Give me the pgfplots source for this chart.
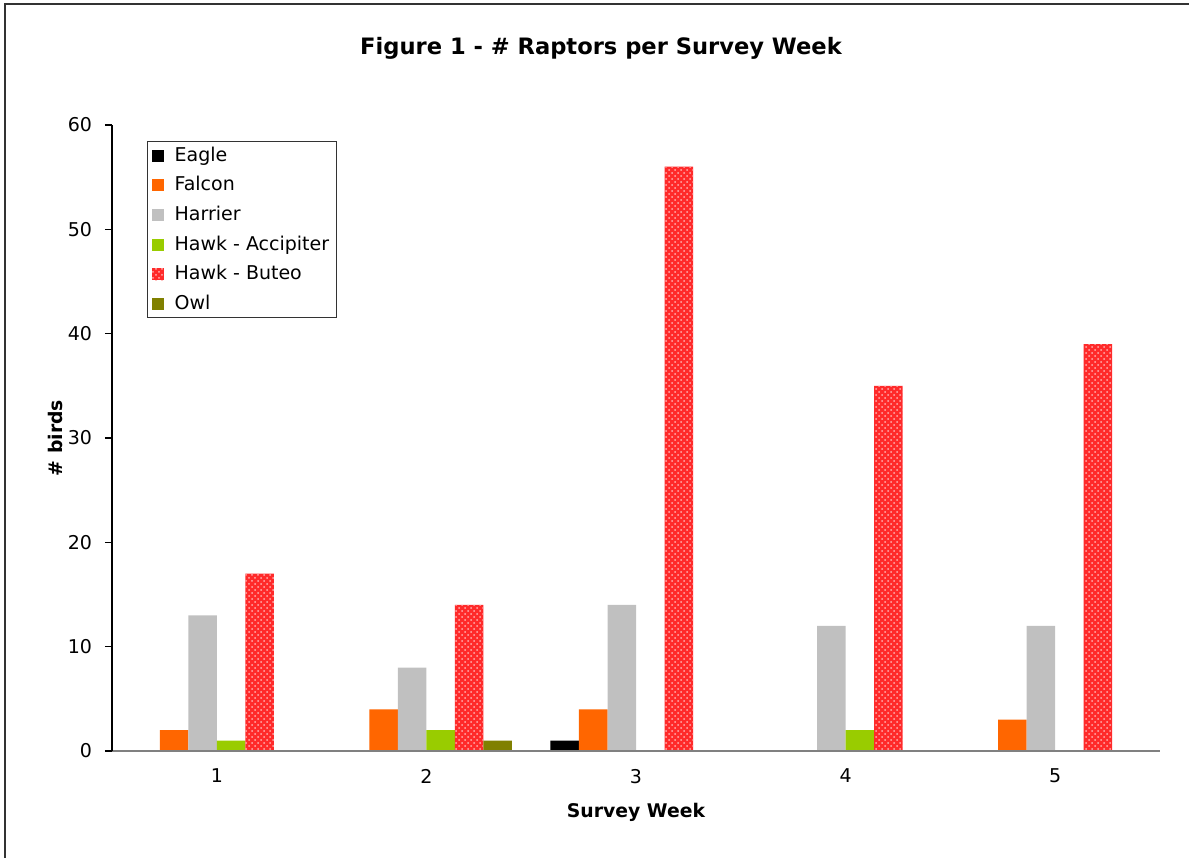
\documentclass[border=0pt]{standalone}
\usepackage{fontspec}
\setmainfont{DejaVu Sans}
\usepackage{pgfplots}
\pgfplotsset{compat=1.18}
\usetikzlibrary{patterns}

\definecolor{falcon}{HTML}{FF6600}
\definecolor{harrier}{HTML}{C0C0C0}
\definecolor{accip}{HTML}{99CC00}
\definecolor{owl}{HTML}{808000}
\definecolor{buteo}{HTML}{FF2A2A}
\definecolor{buteolt}{HTML}{FFB0B0}
\definecolor{axgray}{HTML}{808080}

\begin{document}
\begin{tikzpicture}
% page = 1189 x 857 px, 1 px = 0.5 pt
\useasboundingbox (0,0) rectangle (594.5pt,428.5pt);
\draw[line width=1pt, black!80] (2.5pt,-20pt) -- (2.5pt,426.5pt) -- (620pt,426.5pt);
\node[font=\bfseries\fontsize{11.3}{13}\selectfont] at (300.5pt,404.5pt) {Figure 1 - \# Raptors per Survey Week};
\node[font=\bfseries\fontsize{9.4}{11}\selectfont, rotate=90] at (27.5pt,209.5pt) {\# birds};

\begin{axis}[
  at={(56pt,53pt)}, anchor=south west,
  scale only axis,
  width=524pt, height=313pt,
  axis on top,
  ybar=0pt, bar width=14.25pt,
  xmin=0.5, xmax=5.5,
  ymin=0, ymax=60,
  ytick={0,10,...,60},
  xtick={1,2,3,4,5},
  extra x ticks={1.5,2.5,3.5,4.5,5.5},
  extra x tick labels={},
  extra x tick style={major tick length=7pt, tick style={axgray, line width=0.6pt}},
  x tick style={draw=none},
  y tick style={black, line width=0.6pt},
  major tick length=3.5pt,
  tick align=outside,
  axis x line*=bottom, axis y line*=left,
  x axis line style={-, axgray, line width=1pt},
  y axis line style={-, black, line width=0.6pt},
  /pgf/number format/assume math mode=true,
  ticklabel style={font=\fontsize{9.5}{11}\selectfont},
  yticklabel style={xshift=-3pt},
  xticklabel style={yshift=-2pt},
  xlabel={\bfseries Survey Week},
  label style={font=\fontsize{9.4}{11}\selectfont},
  xlabel style={at={(axis description cs:0.5,0)}, anchor=center, yshift=-30.5pt},
  legend style={at={(rel axis cs:0.0334,0.974)}, anchor=north west,
    draw=black!80, line width=0.6pt, font=\fontsize{9.5}{11}\selectfont,
    inner xsep=2pt, inner ysep=0.5pt, row sep=2.1pt, cells={anchor=west},
    nodes={inner xsep=1.5pt}},
  legend image code/.code={\draw[#1, draw=none] (0pt,-3pt) rectangle (6pt,3pt); \path (10pt,0pt) (0pt,-4.6pt);},
  legend cell align=left,
]
\addplot[fill=black, draw=none] coordinates {(1,0) (2,0) (3,1) (4,0) (5,0)};
\addplot[fill=falcon, draw=none] coordinates {(1,2) (2,4) (3,4) (4,0) (5,3)};
\addplot[fill=harrier, draw=none] coordinates {(1,13) (2,8) (3,14) (4,12) (5,12)};
\addplot[fill=accip, draw=none] coordinates {(1,1) (2,2) (3,0) (4,2) (5,0)};
\addplot[fill=buteo, draw=none, postaction={pattern=crosshatch dots, pattern color=buteolt}]
  coordinates {(1,17) (2,14) (3,56) (4,35) (5,39)};
\addplot[fill=owl, draw=none] coordinates {(1,0) (2,1) (3,0) (4,0) (5,0)};
\legend{Eagle, Falcon, Harrier, Hawk - Accipiter, Hawk - Buteo, Owl}
\end{axis}
\end{tikzpicture}
\end{document}
